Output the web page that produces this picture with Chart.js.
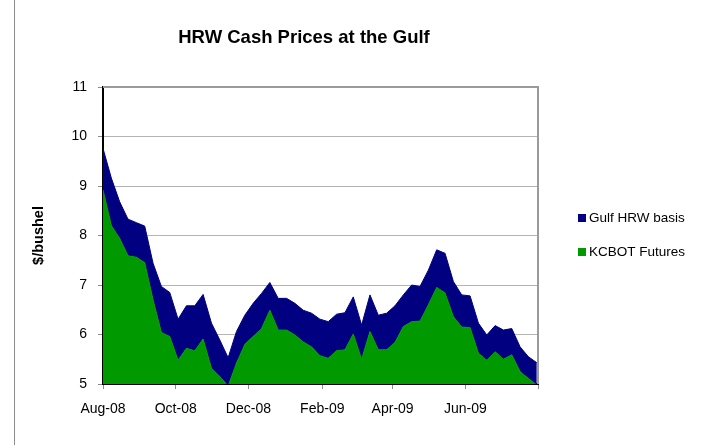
<!DOCTYPE html>
<html>
<head>
<meta charset="utf-8">
<title>HRW Cash Prices at the Gulf</title>
<script src="https://cdn.jsdelivr.net/npm/chart.js@4"></script>
<style>
  html, body { margin: 0; padding: 0; background: #fff; }
</style>
</head>
<body>
<canvas id="grafico" width="705" height="445"></canvas>
<script>
// weekly observations
const weeks = [
  "2008-08-01", "2008-08-08", "2008-08-15", "2008-08-22", "2008-08-29",
  "2008-09-05", "2008-09-12", "2008-09-19", "2008-09-26",
  "2008-10-03", "2008-10-10", "2008-10-17", "2008-10-24", "2008-10-31",
  "2008-11-07", "2008-11-14", "2008-11-21", "2008-11-28",
  "2008-12-05", "2008-12-12", "2008-12-19", "2008-12-26",
  "2009-01-02", "2009-01-09", "2009-01-16", "2009-01-23", "2009-01-30",
  "2009-02-06", "2009-02-13", "2009-02-20", "2009-02-27",
  "2009-03-06", "2009-03-13", "2009-03-20", "2009-03-27",
  "2009-04-03", "2009-04-10", "2009-04-17", "2009-04-24",
  "2009-05-01", "2009-05-08", "2009-05-15", "2009-05-22", "2009-05-29",
  "2009-06-05", "2009-06-12", "2009-06-19", "2009-06-26",
  "2009-07-03", "2009-07-10", "2009-07-17", "2009-07-24", "2009-07-31"
];

const futures = [
  8.92, 8.20, 7.94, 7.59, 7.56, 7.45, 6.70, 6.04, 5.96,
  5.48, 5.72, 5.67, 5.91, 5.32, 5.15, 4.96, 5.42, 5.80,
  5.96, 6.12, 6.49, 6.09, 6.09, 5.99, 5.85, 5.75, 5.57,
  5.52, 5.67, 5.69, 6.01, 5.50, 6.06, 5.69, 5.69, 5.84,
  6.16, 6.26, 6.27, 6.60, 6.95, 6.84, 6.36, 6.15, 6.14,
  5.62, 5.48, 5.65, 5.50, 5.59, 5.25, 5.11, 4.98
];

const basis = [
  0.84, 0.96, 0.74, 0.74, 0.70, 0.74, 0.74, 0.93, 0.89,
  0.83, 0.86, 0.91, 0.90, 0.91, 0.74, 0.57, 0.64, 0.59,
  0.67, 0.71, 0.56, 0.64, 0.64, 0.64, 0.64, 0.68, 0.74,
  0.74, 0.74, 0.75, 0.75, 0.69, 0.74, 0.70, 0.74, 0.74,
  0.64, 0.74, 0.70, 0.70, 0.76, 0.80, 0.71, 0.65, 0.64,
  0.61, 0.51, 0.53, 0.59, 0.53, 0.50, 0.44, 0.45
];

const tickDates = ["2008-08-01", "2008-10-01", "2008-12-01", "2009-02-01", "2009-04-01", "2009-06-01", "2009-08-01"];
const tickLabels = ["Aug-08", "Oct-08", "Dec-08", "Feb-09", "Apr-09", "Jun-09", ""];

const FONT = "'Liberation Sans', Arial, sans-serif";
const inicio = Date.parse(weeks[0]);
const dia = (s) => (Date.parse(s) - inicio) / 86400000;

const canvas = document.getElementById("grafico");

const decoracao = {
  id: "decoracao",
  beforeDraw(chart) {
    const ctx = chart.ctx;
    ctx.save();
    ctx.strokeStyle = "#8c8c8c";
    ctx.lineWidth = 1;
    ctx.beginPath();
    ctx.moveTo(14.5, 0);
    ctx.lineTo(14.5, chart.height);
    ctx.stroke();
    ctx.restore();
  },
  afterDraw(chart) {
    const ctx = chart.ctx;
    const a = chart.chartArea;
    ctx.save();
    // plot area frame (top and right)
    ctx.strokeStyle = "#9a9a9a";
    ctx.lineWidth = 2;
    ctx.beginPath();
    ctx.moveTo(a.left, a.top);
    ctx.lineTo(a.right, a.top);
    ctx.lineTo(a.right, a.bottom);
    ctx.stroke();

    // title
    ctx.fillStyle = "#000";
    ctx.font = "bold 18.5px " + FONT;
    ctx.textAlign = "center";
    ctx.textBaseline = "middle";
    ctx.fillText("HRW Cash Prices at the Gulf", 304, 38);

    // legend, basis first
    ctx.font = "13.5px " + FONT;
    ctx.textAlign = "left";
    const itens = [chart.data.datasets[1], chart.data.datasets[0]];
    itens.forEach((ds, i) => {
      const y = 218 + i * 34;
      ctx.fillStyle = ds.backgroundColor;
      ctx.fillRect(578, y - 4, 8, 8);
      ctx.fillStyle = "#000";
      ctx.fillText(ds.label, 589, y);
    });
    ctx.restore();
  }
};

new Chart(canvas, {
  type: "line",
  data: {
    datasets: [
      {
        label: "KCBOT Futures",
        data: futures.map((v, i) => ({ x: dia(weeks[i]), y: v })),
        backgroundColor: "#009900",
        borderColor: "#009900",
        borderWidth: 1,
        pointRadius: 0,
        tension: 0,
        fill: "start"
      },
      {
        label: "Gulf HRW basis",
        data: basis.map((v, i) => ({ x: dia(weeks[i]), y: v })),
        backgroundColor: "#000080",
        borderColor: "#000080",
        borderWidth: 1,
        pointRadius: 0,
        tension: 0,
        fill: "-1"
      }
    ]
  },
  options: {
    responsive: false,
    animation: false,
    devicePixelRatio: 1,
    layout: {
      padding: { left: 0, top: 87, right: 167, bottom: 0 }
    },
    plugins: {
      legend: { display: false },
      title: { display: false },
      tooltip: { enabled: false }
    },
    scales: {
      x: {
        type: "linear",
        min: 0,
        max: dia(tickDates[tickDates.length - 1]),
        afterBuildTicks: (scale) => {
          scale.ticks = tickDates.map((d) => ({ value: dia(d) }));
        },
        afterFit: (scale) => {
          scale.height = 61;
        },
        grid: {
          drawOnChartArea: false,
          drawTicks: true,
          tickLength: 5,
          tickColor: "#8c8c8c"
        },
        border: { color: "#000", width: 2 },
        ticks: {
          autoSkip: false,
          maxRotation: 0,
          padding: 12,
          color: "#000",
          font: { family: FONT, size: 14 },
          callback: (value) => {
            const k = tickDates.findIndex((d) => dia(d) === value);
            return k >= 0 ? tickLabels[k] : "";
          }
        }
      },
      y: {
        stacked: true,
        min: 5,
        max: 11,
        afterFit: (scale) => {
          scale.width = 103;
        },
        grid: {
          color: "#b4b4b4",
          tickLength: 5,
          tickColor: "#8c8c8c"
        },
        border: { color: "#000", width: 2 },
        ticks: {
          stepSize: 1,
          padding: 11,
          color: "#000",
          font: { family: FONT, size: 14 }
        },
        title: {
          display: true,
          text: "$/bushel",
          color: "#000",
          font: { family: FONT, size: 14.5, weight: "bold" },
          padding: { top: 30, bottom: 0 }
        }
      }
    }
  },
  plugins: [decoracao]
});
</script>
</body>
</html>
